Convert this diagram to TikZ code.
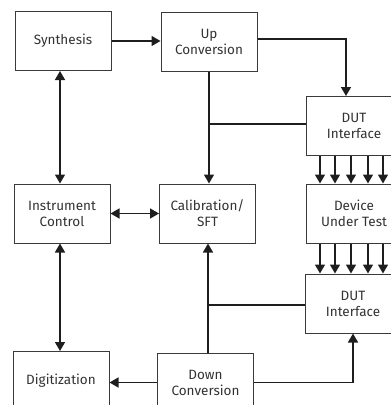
\documentclass[tikz,border=0pt]{standalone}
\usepackage{fontspec}
\setmainfont{Fira Sans}
\usetikzlibrary{arrows.meta}
\definecolor{lineCol}{HTML}{1E1E1E}
\definecolor{boxCol}{HTML}{3A3A3A}
\definecolor{txtCol}{HTML}{333333}
\def\boxW{96}
\def\boxH{59}
\def\lineThickness{1.6pt}
\tikzset{blk/.style={draw=boxCol,line width=1pt,fill=white,minimum width=\boxW pt,minimum height=\boxH pt,inner sep=0,align=center,text=txtCol,font=\fontsize{13.5}{16}\selectfont}}
\tikzset{con/.style={lineCol,line width=\lineThickness}}
\tikzset{arr/.style={con,-{Triangle[length=9pt,width=10pt]}}}
\tikzset{darr/.style={con,{Triangle[length=9pt,width=10pt]}-{Triangle[length=9pt,width=10pt]}}}

\begin{document}
\begin{tikzpicture}[x=1pt,y=-1pt]\useasboundingbox (0,0) rectangle (391,405);\clip (0,0) rectangle (391,405);
\node[blk] (synth) at (63,41) {Synthesis};
\node[blk] (up) at (209,41.5) {Up\\Conversion};
\node[blk] (dutA) at (354,126) {DUT\\Interface};
\node[blk] (instr) at (62,213.5) {Instrument\\Control};
\node[blk] (cal) at (207.5,213.5) {Calibration/\\SFT};
\node[blk] (dut) at (354,213.5) {Device\\Under Test};
\node[blk] (dutB) at (353,303.5) {DUT\\Interface};
\node[blk] (dig) at (61,381) {Digitization};
\node[blk] (down) at (205.5,382.5) {Down\\Conversion};
\coordinate (downN) at ([xshift=2.5pt]down.north);
% upper chain
\draw[arr] (synth.east) -- (synth.east -| up.west);
\draw[darr] ([xshift=-3pt]synth.south) -- ([xshift=-3pt]synth.south |- instr.north);
\draw[arr] ([yshift=2.5pt]up.east) -| ([xshift=-8pt]dutA.north);
\draw[arr] (up.south) -- (up.south |- cal.north);
\draw[con] ([yshift=2pt]dutA.west) -- ([yshift=2pt]dutA.west -| up.south);
\foreach\dx in {-34,-19,-3,14,29}{\draw[arr] ([xshift=\dx pt]dutA.south) -- ([xshift=\dx pt]dutA.south |- dut.north);\draw[arr] ([xshift=\dx pt]dut.south) -- ([xshift=\dx pt]dut.south |- dutB.north);};
% lower chain
\draw[darr] (instr.east) -- (cal.west);
\draw[darr] ([xshift=-2pt]instr.south) -- ([xshift=-2pt]instr.south |- dig.north);
\draw[arr] (down.west) -- (down.west -| dig.east);
\draw[arr] (downN) -- (downN |- cal.south);
\draw[con] ([yshift=-1.5pt]dutB.west) -- ([yshift=-1.5pt]dutB.west -| downN);
\draw[arr] (down.east) -| (dutB.south);
\end{tikzpicture}
\end{document}
